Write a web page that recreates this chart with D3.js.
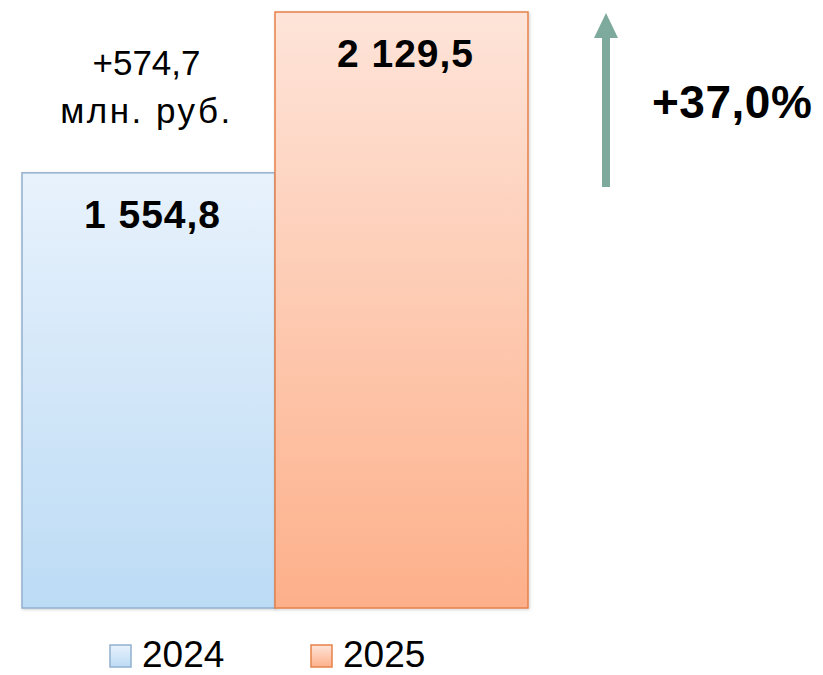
<!DOCTYPE html>
<html>
<head>
<meta charset="utf-8">
<script src="https://cdn.jsdelivr.net/npm/d3@7"></script>
<style>
    body { margin: 0; background: #fff; }
    text { font-family: "Liberation Sans", Arial, sans-serif; fill: #000; }
</style>
</head>
<body>
<div id="chart"></div>
<script>
// Data
const years = ['2024', '2025'];
const values = [1554.8, 2129.5];
const fillTop = ['#e8f2fc', '#fee4d9'];
const fillBottom = ['#bcdbf5', '#fdb08a'];
const strokes = ['#92b0ce', '#e6814a'];
const unitLabel = 'млн. руб.';

const chart = {
    totalWidth: 823,
    totalHeight: 675,
    left: 22,
    right: 528,
    top: 12,
    bottom: 608
};

const ru = d3.formatLocale({ decimal: ',', thousands: ' ', grouping: [3], currency: ['', ''] });
const fmt = ru.format(',.1f');

const svg = d3.select('#chart')
    .append('svg')
    .attr('width', chart.totalWidth)
    .attr('height', chart.totalHeight);

const defs = svg.append('defs');
years.forEach((y, i) => {
    const g = defs.append('linearGradient')
        .attr('id', 'grad' + i)
        .attr('x1', 0).attr('y1', 0).attr('x2', 0).attr('y2', 1);
    g.append('stop').attr('offset', '0%').attr('stop-color', fillTop[i]);
    g.append('stop').attr('offset', '100%').attr('stop-color', fillBottom[i]);
});
const shadow = defs.append('filter').attr('id', 'shadow')
    .attr('x', '-5%').attr('y', '-5%').attr('width', '110%').attr('height', '110%');
shadow.append('feDropShadow')
    .attr('dx', 1).attr('dy', 1).attr('stdDeviation', 1.5)
    .attr('flood-color', '#000').attr('flood-opacity', 0.18);

// Scales
const xScale = d3.scaleBand()
    .domain(years)
    .range([chart.left, chart.right])
    .padding(0);

const yScale = d3.scaleLinear()
    .domain([0, d3.max(values)])
    .range([chart.bottom, chart.top]);

// Bars
svg.append('g')
    .classed('bars', true)
    .selectAll('rect')
    .data(years)
    .enter()
    .append('rect')
    .attr('x', d => xScale(d))
    .attr('y', (d, i) => yScale(values[i]))
    .attr('width', xScale.bandwidth())
    .attr('height', (d, i) => yScale(0) - yScale(values[i]))
    .attr('fill', (d, i) => `url(#grad${i})`)
    .attr('stroke', (d, i) => strokes[i])
    .attr('stroke-width', 1.5)
    .attr('filter', 'url(#shadow)');

// Value labels
svg.append('g')
    .selectAll('text')
    .data(years)
    .enter()
    .append('text')
    .attr('x', d => xScale(d) + xScale.bandwidth() / 2 + 4)
    .attr('y', (d, i) => yScale(values[i]) + 55)
    .attr('text-anchor', 'middle')
    .attr('font-size', 39)
    .attr('font-weight', 'bold')
    .attr('letter-spacing', 1)
    .text((d, i) => fmt(values[i]));

// Difference label
const diff = values[1] - values[0];
const cx = xScale(years[0]) + xScale.bandwidth() / 2 - 2;
const diffText = svg.append('text')
    .attr('text-anchor', 'middle')
    .attr('font-size', 35)
    .attr('x', cx);
diffText.append('tspan')
    .attr('x', cx)
    .attr('y', 75)
    .text('+' + ru.format('.1f')(diff));
diffText.append('tspan')
    .attr('x', cx)
    .attr('y', 123)
    .attr('letter-spacing', 2.5)
    .text(unitLabel);

// Arrow
const arrowX = 606;
const arrowBottom = 187;
const arrowTop = 13;
const arrowColor = '#7daa9d';
svg.append('line')
    .attr('x1', arrowX).attr('x2', arrowX)
    .attr('y1', arrowBottom).attr('y2', arrowTop + 22)
    .attr('stroke', arrowColor)
    .attr('stroke-width', 8);
svg.append('path')
    .attr('d', d3.line()([[arrowX, arrowTop], [arrowX - 12, arrowTop + 25], [arrowX + 12, arrowTop + 25]]) + 'Z')
    .attr('fill', arrowColor);

// Percent
const pct = (values[1] / values[0] - 1) * 100;
svg.append('text')
    .attr('x', 652)
    .attr('y', 118)
    .attr('font-size', 46)
    .attr('font-weight', 'bold')
    .attr('letter-spacing', 0.5)
    .text('+' + ru.format('.1f')(pct) + '%');

// Legend
const legendX = [110, 311];
const legend = svg.append('g').classed('legend', true)
    .selectAll('g')
    .data(years)
    .enter()
    .append('g')
    .attr('transform', (d, i) => `translate(${legendX[i]}, 645)`);
legend.append('rect')
    .attr('width', 21)
    .attr('height', 22)
    .attr('fill', (d, i) => `url(#grad${i})`)
    .attr('stroke', (d, i) => strokes[i])
    .attr('stroke-width', 1.5);
legend.append('text')
    .attr('x', 32)
    .attr('y', 22)
    .attr('font-size', 37)
    .text(d => d);
</script>
</body>
</html>
